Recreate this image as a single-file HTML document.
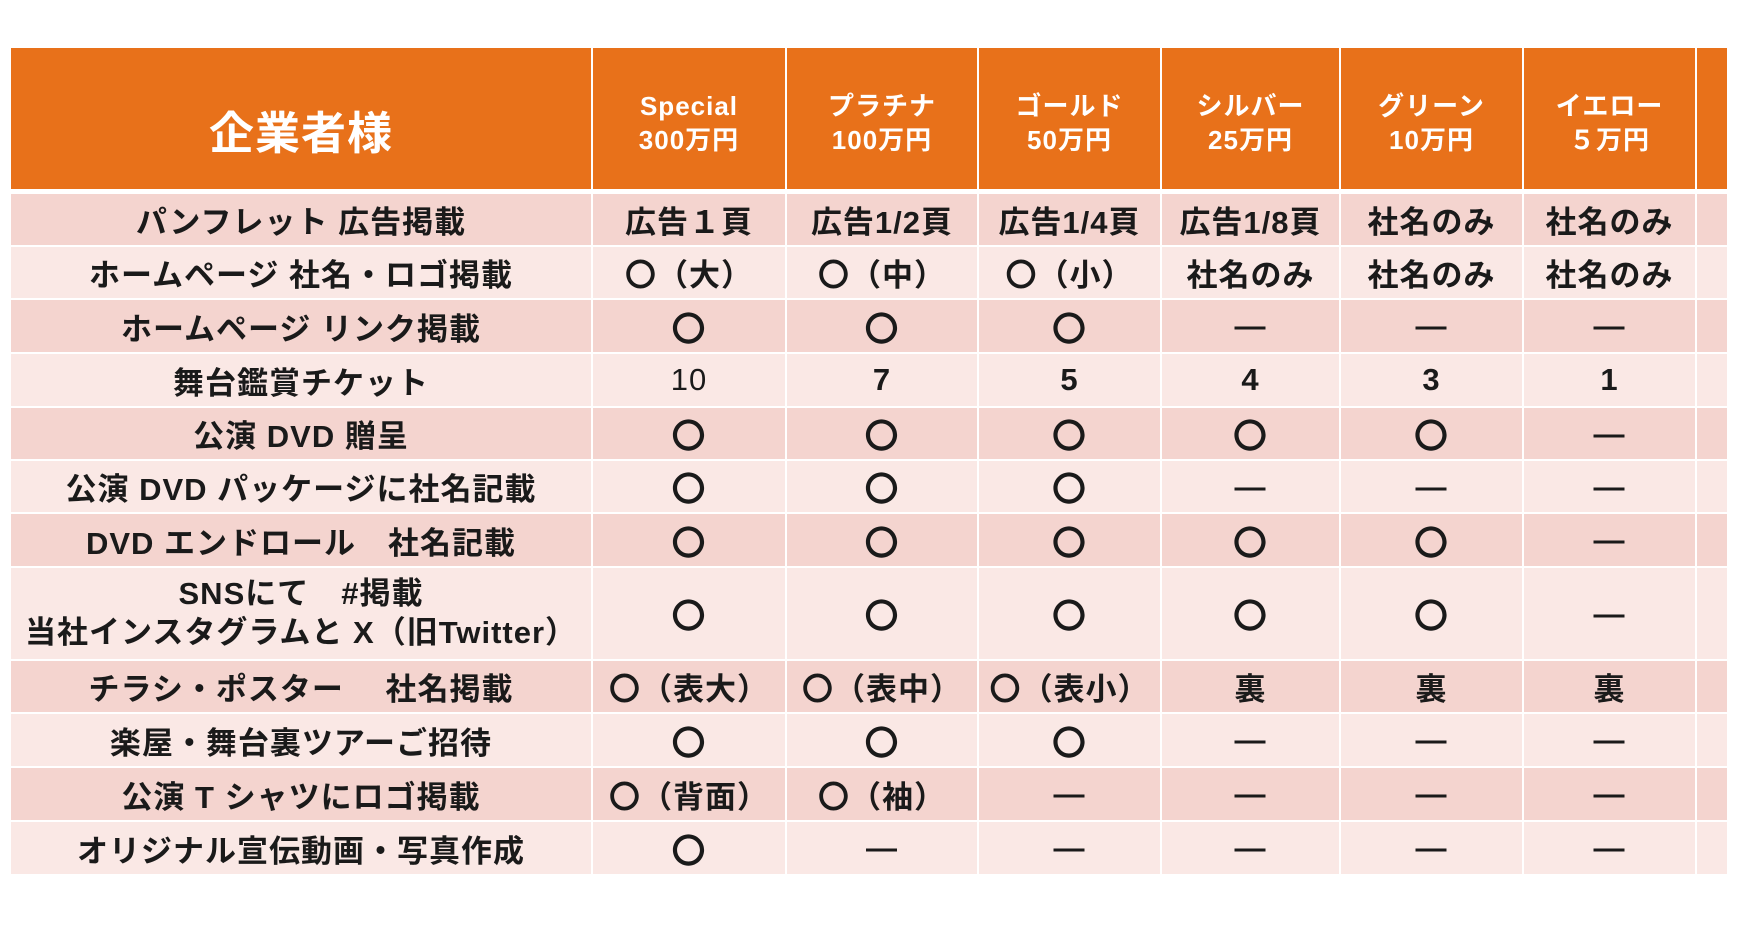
<!DOCTYPE html>
<html><head><meta charset="utf-8"><style>
body{margin:0;background:#fff;width:1739px;height:941px;overflow:hidden;font-family:"Liberation Sans","Noto Sans CJK JP",sans-serif;}
table{position:absolute;left:9px;top:46px;border-collapse:collapse;table-layout:fixed;}
td{border:2px solid #fff;text-align:center;vertical-align:middle;font-weight:bold;font-size:31px;color:#1a1a1a;padding:0;white-space:nowrap;letter-spacing:1px;}
tr.h td{background:#E8711A;color:#fff;height:144px;font-size:26px;line-height:1.3;border-bottom:5px solid #fff;padding-top:12px;box-sizing:border-box;}
tr.h td.big{font-size:45px;padding-top:32px;}
tr.a td{background:#F4D4CF;}
tr.b td{background:#FAE8E5;}
.o{font-size:34px;}
</style></head><body>
<table>
<colgroup><col style="width:582px"><col style="width:194px"><col style="width:192px"><col style="width:183px"><col style="width:179px"><col style="width:183px"><col style="width:173px"><col style="width:32px"></colgroup>
<tr class="h"><td class="big">企業者様</td><td>Special<br>300万円</td><td>プラチナ<br>100万円</td><td>ゴールド<br>50万円</td><td>シルバー<br>25万円</td><td>グリーン<br>10万円</td><td>イエロー<br>５万円</td><td></td></tr>
<tr class="a" style="height:55px"><td>パンフレット 広告掲載</td><td>広告１頁</td><td>広告1/2頁</td><td>広告1/4頁</td><td>広告1/8頁</td><td>社名のみ</td><td>社名のみ</td><td></td></tr>
<tr class="b" style="height:53px"><td>ホームページ 社名・ロゴ掲載</td><td>〇（大）</td><td>〇（中）</td><td>〇（小）</td><td>社名のみ</td><td>社名のみ</td><td>社名のみ</td><td></td></tr>
<tr class="a" style="height:54px"><td>ホームページ リンク掲載</td><td class="o">〇</td><td class="o">〇</td><td class="o">〇</td><td>―</td><td>―</td><td>―</td><td></td></tr>
<tr class="b" style="height:54px"><td>舞台鑑賞チケット</td><td style="font-weight:normal">10</td><td>7</td><td>5</td><td>4</td><td>3</td><td>1</td><td></td></tr>
<tr class="a" style="height:53px"><td>公演 DVD 贈呈</td><td class="o">〇</td><td class="o">〇</td><td class="o">〇</td><td class="o">〇</td><td class="o">〇</td><td>―</td><td></td></tr>
<tr class="b" style="height:53px"><td>公演 DVD パッケージに社名記載</td><td class="o">〇</td><td class="o">〇</td><td class="o">〇</td><td>―</td><td>―</td><td>―</td><td></td></tr>
<tr class="a" style="height:54px"><td>DVD エンドロール　社名記載</td><td class="o">〇</td><td class="o">〇</td><td class="o">〇</td><td class="o">〇</td><td class="o">〇</td><td>―</td><td></td></tr>
<tr class="b" style="height:93px"><td style="line-height:1.25">SNSにて　#掲載<br>当社インスタグラムと X（旧Twitter）</td><td class="o">〇</td><td class="o">〇</td><td class="o">〇</td><td class="o">〇</td><td class="o">〇</td><td>―</td><td></td></tr>
<tr class="a" style="height:53px"><td>チラシ・ポスター　 社名掲載</td><td>〇（表大）</td><td>〇（表中）</td><td>〇（表小）</td><td>裏</td><td>裏</td><td>裏</td><td></td></tr>
<tr class="b" style="height:54px"><td>楽屋・舞台裏ツアーご招待</td><td class="o">〇</td><td class="o">〇</td><td class="o">〇</td><td>―</td><td>―</td><td>―</td><td></td></tr>
<tr class="a" style="height:54px"><td>公演 T シャツにロゴ掲載</td><td>〇（背面）</td><td>〇（袖）</td><td>―</td><td>―</td><td>―</td><td>―</td><td></td></tr>
<tr class="b" style="height:54px"><td>オリジナル宣伝動画・写真作成</td><td class="o">〇</td><td>―</td><td>―</td><td>―</td><td>―</td><td>―</td><td></td></tr>
</table>
</body></html>
